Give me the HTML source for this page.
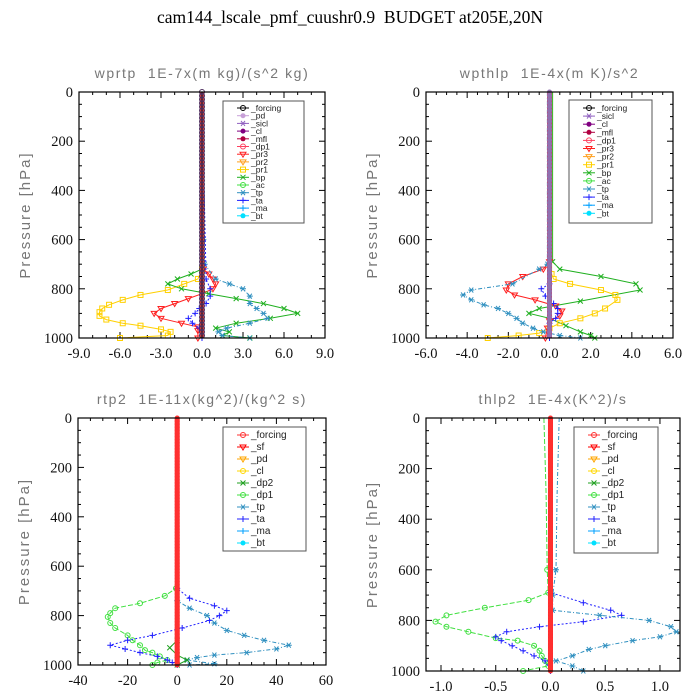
<!DOCTYPE html>
<html><head><meta charset="utf-8">
<style>
html,body{margin:0;padding:0;background:#fff}
svg{display:block}
text{white-space:pre}
.tt{font-family:"Liberation Serif",serif}
.st{font-family:"Liberation Sans",sans-serif;fill:#777;font-size:14px;letter-spacing:1.6px}
.tk{font-family:"Liberation Serif",serif;font-size:14.5px;fill:#111}
.lg{font-family:"Liberation Sans",sans-serif;font-size:8.5px;fill:#222}
</style></head><body>
<svg id="c" width="700" height="700" xmlns="http://www.w3.org/2000/svg">
<text class="tt" x="350" y="23" font-size="17.5" text-anchor="middle">cam144_lscale_pmf_cuushr0.9  BUDGET at205E,20N</text>
</svg>
<script>
// ---- panel 1: wprtp ----
const p1Names = ["_forcing","_pd","_sicl","_cl","_mfl","_dp1","_pr3","_pr2","_pr1","_bp","_ac","_tp","_ta","_ma","_bt"];
const p1XTicks = [-9,-6,-3,0,3,6,9];
const p1XLabels = ["-9.0","-6.0","-3.0","0.0","3.0","6.0","9.0"];
const p1Pr1P = [0,720,760,780,805,825,845,865,880,895,910,925,940,950,965,975,990,1000];
const p1Pr1V = [0,0,-0.3,-1.3,-2.5,-4.5,-5.8,-6.8,-7.3,-7.5,-7.5,-7.0,-5.8,-4.5,-3.0,-2.3,-2.5,-6.0];
const p1Pr3P = [0,720,740,760,780,800,820,840,860,880,900,920,940,955,970,1000];
const p1Pr3V = [0,0.1,0.5,0.8,1.0,0.8,0,-1.0,-2.0,-3.0,-3.5,-3.0,-1.5,-0.3,-0.3,-0.3];
const p1BpP = [0,720,740,760,780,800,820,840,860,880,900,920,940,960,975,990,1000];
const p1BpV = [0,0,-0.8,-1.8,-2.5,-1.5,0.5,2.5,4.5,6.0,7.0,5.0,2.5,1.0,2.0,1.5,3.5];
const p1TpP = [0,600,700,760,780,800,830,860,880,900,920,940,960,975,990,1000];
const p1TpV = [0,0.1,0.2,1.0,2.0,3.0,3.5,3.5,4.0,4.5,4.8,3.5,1.8,1.2,1.5,3.5];
const p1TaP = [0,760,800,830,860,880,900,920,940,960,1000];
const p1TaV = [0,0.3,0.6,0.6,0.3,-0.2,-0.5,-1.0,-0.7,-0.2,0];
// ---- panel 2: wpthlp ----
const p2Names = ["_forcing","_sicl","_cl","_mfl","_dp1","_pr3","_pr2","_pr1","_bp","_ac","_tp","_ta","_ma","_bt"];
const p2XTicks = [-6,-4,-2,0,2,4,6];
const p2XLabels = ["-6.0","-4.0","-2.0","0.0","2.0","4.0","6.0"];
const p2BpP = [0,690,720,750,780,805,850,880,900,920,950,975,990,1000];
const p2BpV = [0.15,0.15,0.5,2.5,4.2,4.4,1.5,-0.5,-1.0,0,0.8,1.5,2.0,2.2];
const p2Pr1P = [0,740,760,780,805,825,845,880,900,920,940,960,980,990,1000];
const p2Pr1V = [0.1,0.1,0.2,1.0,2.5,3.2,3.3,2.7,2.2,1.5,0.5,0,-0.5,-1.5,-3.0];
const p2Pr3P = [0,690,720,750,780,805,825,845,870,890,910,930,960,1000];
const p2Pr3V = [0,0,-0.3,-1.3,-2.0,-2.1,-1.7,-0.7,0.3,0.6,0.5,0,-0.1,-0.2];
const p2TpP = [0,700,720,780,805,825,845,865,880,900,920,940,960,975,990,1000];
const p2TpV = [-0.1,-0.1,-0.5,-1.8,-3.8,-4.2,-3.8,-3.2,-2.5,-2.0,-1.6,-1.3,-0.8,-0.3,0.5,1.5];
const p2TaP = [0,780,800,830,860,880,900,920,940,1000];
const p2TaV = [0,0,-0.4,-0.2,0.2,0.4,0.4,0.3,0,0];
// ---- panel 3: rtp2 ----
const p3Names = ["_forcing","_sf","_pd","_cl","_dp2","_dp1","_tp","_ta","_ma","_bt"];
const p3XTicks = [-40,-20,0,20,40,60];
const p3XLabels = ["-40","-20","0","20","40","60"];
const p3Dp1P = [0,690,720,750,770,790,805,830,850,880,900,920,940,950,965,980,990,1000];
const p3Dp1V = [0,-0.5,-5,-15,-25,-27,-28,-27,-25,-20,-18,-15,-13,-10,-7,-4,-8,-10];
const p3TaP = [0,690,730,760,780,800,820,850,880,900,920,935,950,965,980,990,1000];
const p3TaV = [0,0,5,15,20,17,13,2,-10,-20,-27,-21,-15,-8,-4,-2,0];
const p3TpP = [0,740,770,800,830,860,880,900,920,935,950,960,970,980,995,1000];
const p3TpV = [0,0,5,12,15,20,27,35,45,40,28,15,8,4,15,5];
const p3Dp2P = [0,900,930,960,980,1000];
const p3Dp2V = [0,0,-3,0,4,0];
// ---- panel 4: thlp2 ----
const p4Names = p3Names;
const p4XTicks = [-1.0,-0.5,0,0.5,1.0];
const p4XLabels = ["-1.0","-0.5","0.0","0.5","1.0"];
const p4Dp1P = [0,300,600,690,720,750,780,805,825,845,870,880,900,920,940,960,980,1000];
const p4Dp1V = [-0.06,-0.04,-0.03,-0.02,-0.2,-0.6,-0.95,-1.05,-0.95,-0.75,-0.5,-0.3,-0.15,-0.1,-0.08,-0.05,-0.02,-0.25];
const p4TaP = [0,690,730,760,780,805,825,845,865,880,900,920,940,960,1000];
const p4TaV = [0,0,0.3,0.55,0.65,0.3,-0.1,-0.4,-0.5,-0.45,-0.35,-0.25,-0.15,-0.05,0];
const p4TpP = [0,300,600,700,760,780,800,825,845,865,880,900,915,940,960,980,1000];
const p4TpV = [0.08,0.06,0.05,0.02,0.02,0.45,0.9,1.1,1.15,1.0,0.75,0.5,0.35,0.2,0.05,0.2,0.3];

const NS="http://www.w3.org/2000/svg";
const svg=document.getElementById('c');
function mk(tag,attrs,parent){const e=document.createElementNS(NS,tag);for(const k in attrs)e.setAttribute(k,attrs[k]);(parent||svg).appendChild(e);return e;}

const colors1={"_forcing":"#000","_pd":"#c8a0d8","_sicl":"#9060c0","_cl":"#800080","_mfl":"#b00040","_dp1":"#ff4060","_pr3":"#ff2020","_pr2":"#ffa020","_pr1":"#ffd000","_bp":"#20b020","_ac":"#40e040","_tp":"#3090c0","_ta":"#2020ff","_ma":"#00a0ff","_bt":"#00e0ff"};
const colors3={"_forcing":"#ff3030","_sf":"#ff0000","_pd":"#ffa500","_cl":"#ffd700","_dp2":"#20a020","_dp1":"#40e040","_tp":"#3090c0","_ta":"#2020ff","_ma":"#00a0ff","_bt":"#00e0ff"};

function marker(g,type,x,y,c){
  if(type==='x'){mk('path',{d:`M${x-2.5},${y-2.5}L${x+2.5},${y+2.5}M${x-2.5},${y+2.5}L${x+2.5},${y-2.5}`,stroke:c,'stroke-width':1,fill:'none'},g);}
  else if(type==='+'){mk('path',{d:`M${x-3},${y}L${x+3},${y}M${x},${y-3}L${x},${y+3}`,stroke:c,'stroke-width':1,fill:'none'},g);}
  else if(type==='*'){mk('path',{d:`M${x-3},${y}L${x+3},${y}M${x-2},${y-2.5}L${x+2},${y+2.5}M${x-2},${y+2.5}L${x+2},${y-2.5}`,stroke:c,'stroke-width':1,fill:'none'},g);}
  else if(type==='s'){mk('rect',{x:x-2.5,y:y-2.5,width:5,height:5,stroke:c,fill:'none','stroke-width':1},g);}
  else if(type==='v'){mk('path',{d:`M${x-3},${y-2}L${x+3},${y-2}L${x},${y+3}Z`,stroke:c,fill:'none','stroke-width':1},g);}
  else if(type==='f'){mk('circle',{cx:x,cy:y,r:2.5,fill:c},g);}
  else {mk('circle',{cx:x,cy:y,r:2.5,stroke:c,fill:'none','stroke-width':1},g);}
}

function panel(o){
  const {L,R,T,B,xmin,xmax}=o;
  const xs=v=>L+(v-xmin)/(xmax-xmin)*(R-L);
  const ys=p=>T+p/1000*(B-T);
  const g=mk('g',{});
  
  
  const st=mk('text',{class:'st',x:(L+R)/2,y:T-14,'text-anchor':'middle'},g);
  st.textContent=o.sub;
  
  
  const yl=mk('text',{class:'st',x:0,y:0,'text-anchor':'middle',transform:`translate(${L-49},${(T+B)/2}) rotate(-90)`,style:'font-size:15px;letter-spacing:2px'},g);
  yl.textContent='Pressure [hPa]';
  
  
  const tg=mk('g',{stroke:'#000','stroke-width':1},g);
  for(let p=0;p<=1000;p+=50){const maj=p%200===0;const len=maj?6:3;
    mk('line',{x1:L,x2:L+len,y1:ys(p),y2:ys(p)},tg);mk('line',{x1:R,x2:R-len,y1:ys(p),y2:ys(p)},tg);
    if(maj){const t=mk('text',{class:'tk',x:L-6,y:ys(p)+5,'text-anchor':'end',stroke:'none'},g);t.textContent=p;
      
      }}
  const xt=o.xt;
  for(let i=0;i<xt.length;i++){const x=xs(xt[i]);
    mk('line',{x1:x,x2:x,y1:B,y2:B-6},tg);mk('line',{x1:x,x2:x,y1:T,y2:T+6},tg);
    const t=mk('text',{class:'tk',x:x,y:B+20,'text-anchor':'middle',stroke:'none'},g);t.textContent=o.xl[i];
    
    
    if(i<xt.length-1){const step=(xt[i+1]-xt[i])/o.minor;for(let k=1;k<o.minor;k++){const mx=xs(xt[i]+k*step);
      mk('line',{x1:mx,x2:mx,y1:B,y2:B-3},tg);mk('line',{x1:mx,x2:mx,y1:T,y2:T+3},tg);}}}
  const sg=mk('g',{},g);
  o.series.forEach(s=>{
    const pts=s.p.map((p,i)=>xs(s.v[i]).toFixed(1)+','+ys(p).toFixed(1)).join(' ');
    const pl=mk('polyline',{points:pts,fill:'none',stroke:s.c,'stroke-width':1,'stroke-dasharray':s.dash||'none'},sg);
    
    
    s.p.forEach((p,i)=>{if(p>=600)marker(sg,s.m,xs(s.v[i]),ys(p),s.c);});
  });
  const x0=xs(0);
  mk('line',{x1:x0,x2:x0,y1:T,y2:B,stroke:o.zc1,'stroke-width':5},sg);
  mk('line',{x1:x0,x2:x0,y1:T,y2:B,stroke:o.zc2,'stroke-width':1.2},sg);
  for(let p=0;p<=1000;p+=o.zstep){marker(sg,o.zm,x0,ys(p),o.zmc);}
  const fr=mk('rect',{x:L,y:T,width:R-L,height:B-T,fill:'none',stroke:'#000','stroke-width':1.2},g);
  
  
  const lgG=mk('g',{},g);
  
  
  mk('rect',{x:o.lg[0],y:o.lg[1],width:o.lg[2],height:o.lg[3],fill:'#fff',stroke:'#555','stroke-width':1},lgG);
  o.names.forEach((n,i)=>{
    const y=o.lg[1]+o.lg4+i*o.lgs;const lx=o.lg[0]+20;
    const e=mk('g',{},lgG);
    
    
    const c=o.colors[n];
    mk('line',{x1:lx-6,x2:lx+6,y1:y,y2:y,stroke:c,'stroke-width':1},e);
    marker(e,o.mtype[n]||'o',lx,y,c);
    const t=mk('text',{class:'lg',x:lx+8,y:y+3,style:`font-size:${o.lfs}px`},e);t.textContent=n;
  });
}
const mt1={"_forcing":"o","_pd":"f","_sicl":"*","_cl":"f","_mfl":"f","_dp1":"o","_pr3":"v","_pr2":"v","_pr1":"s","_bp":"x","_ac":"o","_tp":"*","_ta":"+","_ma":"+","_bt":"f"};
const mt3={"_forcing":"o","_sf":"v","_pd":"v","_cl":"o","_dp2":"x","_dp1":"o","_tp":"*","_ta":"+","_ma":"+","_bt":"f"};

panel({name:'panel-wprtp',L:79,R:325,T:92,B:338,xmin:-9,xmax:9,xt:p1XTicks,xl:p1XLabels,minor:3,
  sub:'wprtp  1E-7x(m kg)/(s^2 kg)',names:p1Names,colors:colors1,mtype:mt1,
  lg:[223,101,81,122],lg4:7,lgs:7.7,lfs:8.5,zc1:'#c84040',zc2:'#201020',zm:'o',zmc:'#503060',zstep:15,
  series:[
   {n:'_pr1',p:p1Pr1P,v:p1Pr1V,c:'#ffd000',m:'s'},
   {n:'_pr3',p:p1Pr3P,v:p1Pr3V,c:'#ff2020',m:'v'},
   {n:'_bp',p:p1BpP,v:p1BpV,c:'#20b020',m:'x'},
   {n:'_tp',p:p1TpP,v:p1TpV,c:'#3090c0',m:'*',dash:'4,2,1,2'},
   {n:'_ta',p:p1TaP,v:p1TaV,c:'#2020ff',m:'+',dash:'2,2'}]});
panel({name:'panel-wpthlp',L:426,R:673,T:92,B:338,xmin:-6,xmax:6,xt:p2XTicks,xl:p2XLabels,minor:4,
  sub:'wpthlp  1E-4x(m K)/s^2',names:p2Names,colors:colors1,mtype:mt1,
  lg:[569,100,83,123],lg4:8,lgs:8.1,lfs:8.5,zc1:'#c84060',zc2:'#8050a0',zm:'f',zmc:'#9070b0',zstep:15,
  series:[
   {n:'_bp',p:p2BpP,v:p2BpV,c:'#20b020',m:'x'},
   {n:'_pr1',p:p2Pr1P,v:p2Pr1V,c:'#ffd000',m:'s'},
   {n:'_pr3',p:p2Pr3P,v:p2Pr3V,c:'#ff2020',m:'v'},
   {n:'_tp',p:p2TpP,v:p2TpV,c:'#3090c0',m:'*',dash:'4,2,1,2'},
   {n:'_ta',p:p2TaP,v:p2TaV,c:'#2020ff',m:'+',dash:'2,2'}]});
panel({name:'panel-rtp2',L:78,R:326,T:418,B:665,xmin:-40,xmax:60,xt:p3XTicks,xl:p3XLabels,minor:4,
  sub:'rtp2  1E-11x(kg^2)/(kg^2 s)',names:p3Names,colors:colors3,mtype:mt3,
  lg:[223,427,83,124],lg4:8,lgs:12,lfs:10,zc1:'#ff2020',zc2:'#c00000',zm:'f',zmc:'#ff3030',zstep:12.5,
  series:[
   {n:'_dp1',p:p3Dp1P,v:p3Dp1V,c:'#40e040',m:'o',dash:'5,2'},
   {n:'_ta',p:p3TaP,v:p3TaV,c:'#2020ff',m:'+',dash:'2,2'},
   {n:'_tp',p:p3TpP,v:p3TpV,c:'#3090c0',m:'*',dash:'4,2,1,2'},
   {n:'_dp2',p:p3Dp2P,v:p3Dp2V,c:'#20a020',m:'x'}]});
panel({name:'panel-thlp2',L:426,R:680,T:418,B:671,xmin:-1.137,xmax:1.183,xt:p4XTicks,xl:p4XLabels,minor:5,
  sub:'thlp2  1E-4x(K^2)/s',names:p4Names,colors:colors3,mtype:mt3,
  lg:[574,427,84,126],lg4:8,lgs:12,lfs:10,zc1:'#ff2020',zc2:'#c00000',zm:'f',zmc:'#ff3030',zstep:12.5,
  series:[
   {n:'_dp1',p:p4Dp1P,v:p4Dp1V,c:'#40e040',m:'o',dash:'5,2'},
   {n:'_ta',p:p4TaP,v:p4TaV,c:'#2020ff',m:'+',dash:'2,2'},
   {n:'_tp',p:p4TpP,v:p4TpV,c:'#3090c0',m:'*',dash:'4,2,1,2'}]});
</script>
</body></html>
